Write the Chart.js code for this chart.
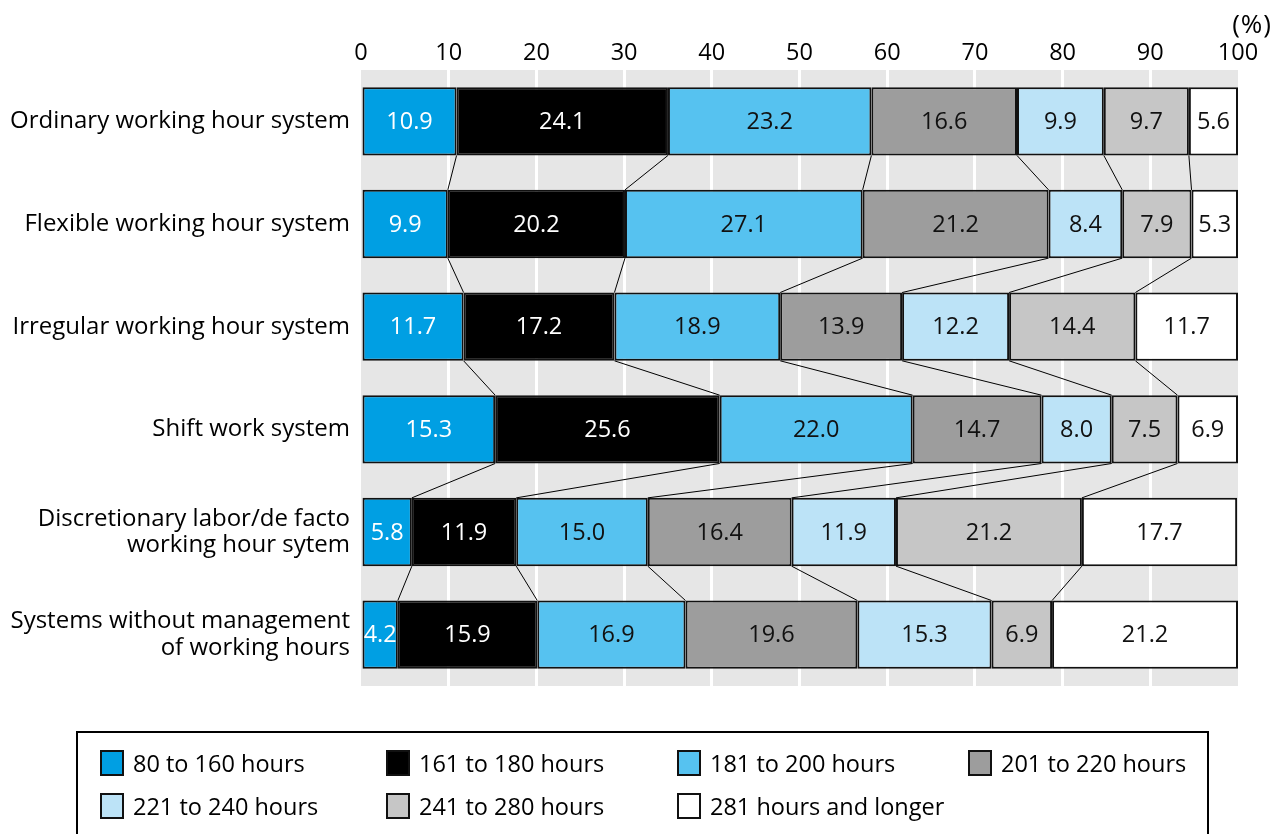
<!DOCTYPE html>
<html>
<head>
<meta charset="utf-8">
<script src="https://cdn.jsdelivr.net/npm/chart.js@4/dist/chart.umd.min.js"></script>
<style>
  body { margin: 0; background: #fff; font-family: "Open Sans", "Noto Sans", sans-serif; }
  #wrap { position: relative; width: 1282px; height: 834px; overflow: hidden; }
  #chart { position: absolute; left: 0; top: 0; }
  #unit { position: absolute; right: 11px; top: 6px; font-size: 26px; line-height: 34px; color: #000; }
  #unit span { display: inline-block; margin: 0 1px; }
  #legend { position: absolute; left: 76px; top: 731px; width: 1133px; height: 130px; border: 2px solid #000; box-sizing: border-box; }
  .item { position: absolute; display: flex; align-items: center; font-size: 23.5px; color: #000; white-space: nowrap; height: 28px; }
  .sw { width: 20px; height: 22px; border: 2px solid #111; margin-right: 9px; flex: none; }
</style>
</head>
<body>
<div id="wrap">
  <canvas id="chart" width="1282" height="834"></canvas>
  <div id="unit">(<span>%</span>)</div>
  <div id="legend"></div>
</div>
<script>
// Working-hour systems (rows, top to bottom)
const categories = [
  'Ordinary working hour system',
  'Flexible working hour system',
  'Irregular working hour system',
  'Shift work system',
  ['Discretionary labor/de facto', 'working hour sytem'],
  ['Systems without management', 'of working hours']
];

// Share (%) of workers in each monthly working-hours band
const hours80to160   = [10.9,  9.9, 11.7, 15.3,  5.8,  4.2];
const hours161to180  = [24.1, 20.2, 17.2, 25.6, 11.9, 15.9];
const hours181to200  = [23.2, 27.1, 18.9, 22.0, 15.0, 16.9];
const hours201to220  = [16.6, 21.2, 13.9, 14.7, 16.4, 19.6];
const hours221to240  = [ 9.9,  8.4, 12.2,  8.0, 11.9, 15.3];
const hours241to280  = [ 9.7,  7.9, 14.4,  7.5, 21.2,  6.9];
const hours281plus   = [ 5.6,  5.3, 11.7,  6.9, 17.7, 21.2];

const seriesNames  = ['80 to 160 hours', '161 to 180 hours', '181 to 200 hours', '201 to 220 hours',
                      '221 to 240 hours', '241 to 280 hours', '281 hours and longer'];
const seriesValues = [hours80to160, hours161to180, hours181to200, hours201to220,
                      hours221to240, hours241to280, hours281plus];
const seriesColors = ['#009fe3', '#000000', '#56c2f0', '#9d9d9d', '#bce3f7', '#c6c6c6', '#ffffff'];
const labelColors  = ['#ffffff', '#ffffff', '#111111', '#111111', '#111111', '#111111', '#111111'];

const xTicks = { min: 0, max: 100, step: 10 };

const FONT = '"Open Sans", "Noto Sans", sans-serif';

// Grey plotting field behind the grid
const plotBackground = {
  id: 'plotBackground',
  beforeDraw(chart) {
    const { ctx, chartArea: a } = chart;
    ctx.save();
    ctx.fillStyle = '#e6e6e6';
    ctx.fillRect(a.left, a.top, a.right - a.left, a.bottom - a.top);
    ctx.restore();
  }
};

// Thin lines joining segment boundaries of neighbouring bars
const connectors = {
  id: 'connectors',
  afterDatasetsDraw(chart) {
    const { ctx } = chart;
    const x = chart.scales.x;
    const n = chart.data.labels.length;
    const metas = chart.data.datasets.map((d, i) => chart.getDatasetMeta(i));
    ctx.save();
    ctx.strokeStyle = '#000';
    ctx.lineWidth = 1;
    for (let r = 0; r < n - 1; r++) {
      let cumA = 0, cumB = 0;
      for (let k = 0; k < metas.length - 1; k++) {
        cumA += chart.data.datasets[k].data[r];
        cumB += chart.data.datasets[k].data[r + 1];
        const elA = metas[k].data[r];
        const elB = metas[k].data[r + 1];
        const yA = elA.y + elA.height / 2;
        const yB = elB.y - elB.height / 2;
        ctx.beginPath();
        ctx.moveTo(x.getPixelForValue(cumA), yA);
        ctx.lineTo(x.getPixelForValue(cumB), yB);
        ctx.stroke();
      }
    }
    ctx.restore();
  }
};

// Value printed in the middle of each segment
const valueLabels = {
  id: 'valueLabels',
  afterDatasetsDraw(chart) {
    const { ctx } = chart;
    ctx.save();
    ctx.font = '23.5px ' + FONT;
    ctx.textAlign = 'center';
    ctx.textBaseline = 'middle';
    chart.data.datasets.forEach((ds, i) => {
      const meta = chart.getDatasetMeta(i);
      meta.data.forEach((el, j) => {
        const v = ds.data[j];
        ctx.fillStyle = labelColors[i];
        ctx.fillText(v.toFixed(1), (el.x + el.base) / 2, el.y + 1);
      });
    });
    ctx.restore();
  }
};

new Chart(document.getElementById('chart'), {
  type: 'bar',
  data: {
    labels: categories,
    datasets: seriesNames.map((name, i) => ({
      label: name,
      data: seriesValues[i],
      backgroundColor: seriesColors[i],
      borderColor: '#111',
      borderWidth: 2,
      borderSkipped: false,
      categoryPercentage: 1,
      barPercentage: 0.665
    }))
  },
  options: {
    indexAxis: 'y',
    responsive: false,
    animation: false,
    layout: { padding: { left: 0, top: 0, right: 44, bottom: 148 } },
    plugins: { legend: { display: false }, tooltip: { enabled: false } },
    scales: {
      x: {
        position: 'top',
        stacked: true,
        min: xTicks.min,
        max: xTicks.max,
        ticks: {
          stepSize: xTicks.step,
          maxRotation: 0,
          padding: 3,
          color: '#000',
          font: { family: FONT, size: 23.5 }
        },
        grid: {
          drawTicks: false,
          lineWidth: 3,
          color: c => (c.tick && (c.tick.value === xTicks.min || c.tick.value === xTicks.max)) ? 'rgba(0,0,0,0)' : '#ffffff'
        },
        border: { display: false },
        afterFit: s => { s.height = 70; }
      },
      y: {
        stacked: true,
        ticks: {
          padding: 11,
          color: '#000',
          font: { family: FONT, size: 24, lineHeight: 1.1 }
        },
        grid: { display: false, drawTicks: false },
        border: { display: false },
        afterFit: s => { s.width = 361; }
      }
    }
  },
  plugins: [plotBackground, connectors, valueLabels]
});

// Legend box: two rows, four columns
const legendCols = [100, 386, 677, 968];
const legendRows = [763, 806];
const legend = document.getElementById('legend');
seriesNames.forEach((name, i) => {
  const item = document.createElement('div');
  item.className = 'item';
  item.style.left = (legendCols[i % 4] - 76 - 2) + 'px';
  item.style.top = (legendRows[Math.floor(i / 4)] - 731 - 2 - 14) + 'px';
  const sw = document.createElement('span');
  sw.className = 'sw';
  sw.style.background = seriesColors[i];
  const tx = document.createElement('span');
  tx.textContent = name;
  item.appendChild(sw);
  item.appendChild(tx);
  legend.appendChild(item);
});
</script>
</body>
</html>
